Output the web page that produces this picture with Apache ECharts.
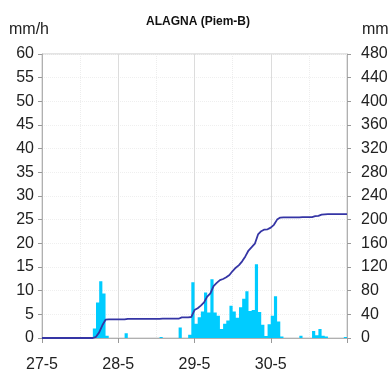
<!DOCTYPE html>
<html>
<head>
<meta charset="utf-8">
<script src="https://cdn.jsdelivr.net/npm/echarts@6/dist/echarts.min.js"></script>
<style>
  html, body { margin: 0; padding: 0; background: #fff; }
  #chart { width: 391px; height: 374px; }
</style>
</head>
<body>
<div id="chart"></div>
<script>
// hourly rainfall (mm/h), hour 0 = 27-5 00:00
var hourly = [
  0, 0, 0, 0, 0, 0, 0, 0, 0, 0, 0, 0, 0, 0, 0, 0,
  2.0, 7.5, 12.0, 9.4, 0.5, 0, 0, 0,
  0, 0, 1.0, 0, 0, 0, 0, 0, 0, 0, 0, 0,
  0, 0.2, 0, 0, 0, 0, 0, 2.2, 0, 0, 0.7, 11.8,
  3.0, 4.4, 5.6, 9.6, 5.4, 12.4, 5.4, 4.7, 1.9, 3.0, 3.7, 6.8,
  5.6, 4.3, 6.5, 8.3, 9.9, 5.7, 5.9, 15.6, 5.5, 2.8, 0.4, 2.9,
  4.7, 8.8, 3.5, 0.3, 0, 0, 0, 0, 0, 0.5, 0, 0,
  0, 1.5, 0.6, 1.9, 0.5, 0.3, 0, 0, 0, 0, 0, 0.2
];
var dayLabels = ['27-5', '28-5', '29-5', '30-5', ''];
var leftTicks = [0, 60, 5];    // min, max, step (mm/h)
var rightTicks = [0, 480, 40]; // min, max, step (mm)

var hours = hourly.map(function (v, i) { return String(i); });
var cum = 0;
var lineData = [[0, 0]];
hourly.forEach(function (v, i) {
  cum += v;
  lineData.push([i + 1, Math.round(cum * 10) / 10]);
});

var myChart = echarts.init(document.getElementById('chart'));
var font = 'Liberation Sans, Arial, sans-serif';
myChart.setOption({
  animation: false,
  title: {
    text: 'ALAGNA (Piem-B)',
    left: 193,
    top: 11,
    textAlign: 'center',
    textStyle: { fontFamily: font, fontSize: 12, fontWeight: 'bold', color: '#111' }
  },
  graphic: [
    { type: 'text', left: 9, top: 22, style: { text: 'mm/h', font: '16px ' + font, fill: '#222' } },
    { type: 'text', left: 362, top: 22, style: { text: 'mm', font: '16px ' + font, fill: '#222' } }
  ],
  grid: {
    left: 42, right: 44, top: 54, bottom: 36,
    show: true, borderColor: '#c8c8c8', borderWidth: 1
  },
  xAxis: [
    {
      type: 'value',
      min: 0, max: 96, interval: 24,
      axisLine: { show: true, lineStyle: { color: '#b0b0b0' } },
      axisTick: { show: true, length: 5, lineStyle: { color: '#999' } },
      axisLabel: {
        margin: 19, fontFamily: font, fontSize: 16, color: '#222',
        formatter: function (v) { return dayLabels[v / 24]; }
      },
      splitLine: { show: true, lineStyle: { color: '#dcdcdc' } },
      minorTick: { show: false, splitNumber: 2 },
      minorSplitLine: { show: true, lineStyle: { color: '#ededed', type: 'dotted' } }
    },
    {
      type: 'category',
      data: hours,
      boundaryGap: true,
      show: false
    }
  ],
  yAxis: [
    {
      type: 'value',
      min: leftTicks[0], max: leftTicks[1], interval: leftTicks[2],
      axisLine: { show: true, lineStyle: { color: '#b0b0b0' } },
      axisTick: { show: true, length: 4, lineStyle: { color: '#999' } },
      axisLabel: { margin: 8, fontFamily: font, fontSize: 16, color: '#222' },
      splitLine: { show: true, lineStyle: { color: '#efefef', type: 'dotted' } }
    },
    {
      type: 'value',
      min: rightTicks[0], max: rightTicks[1], interval: rightTicks[2],
      position: 'right',
      axisLine: { show: true, lineStyle: { color: '#b0b0b0' } },
      axisTick: { show: true, length: 4, lineStyle: { color: '#999' } },
      axisLabel: { margin: 14, fontFamily: font, fontSize: 16, color: '#222' },
      splitLine: { show: false }
    }
  ],
  series: [
    {
      name: 'mm/h',
      type: 'bar',
      xAxisIndex: 1,
      yAxisIndex: 0,
      data: hourly,
      barCategoryGap: '0%',
      large: true,
      largeThreshold: 1,
      itemStyle: { color: '#00ccff' }
    },
    {
      name: 'mm',
      type: 'line',
      xAxisIndex: 0,
      yAxisIndex: 1,
      data: lineData,
      showSymbol: false,
      lineStyle: { color: '#3535a5', width: 1.8 },
      z: 3
    }
  ]
});
</script>
</body>
</html>
